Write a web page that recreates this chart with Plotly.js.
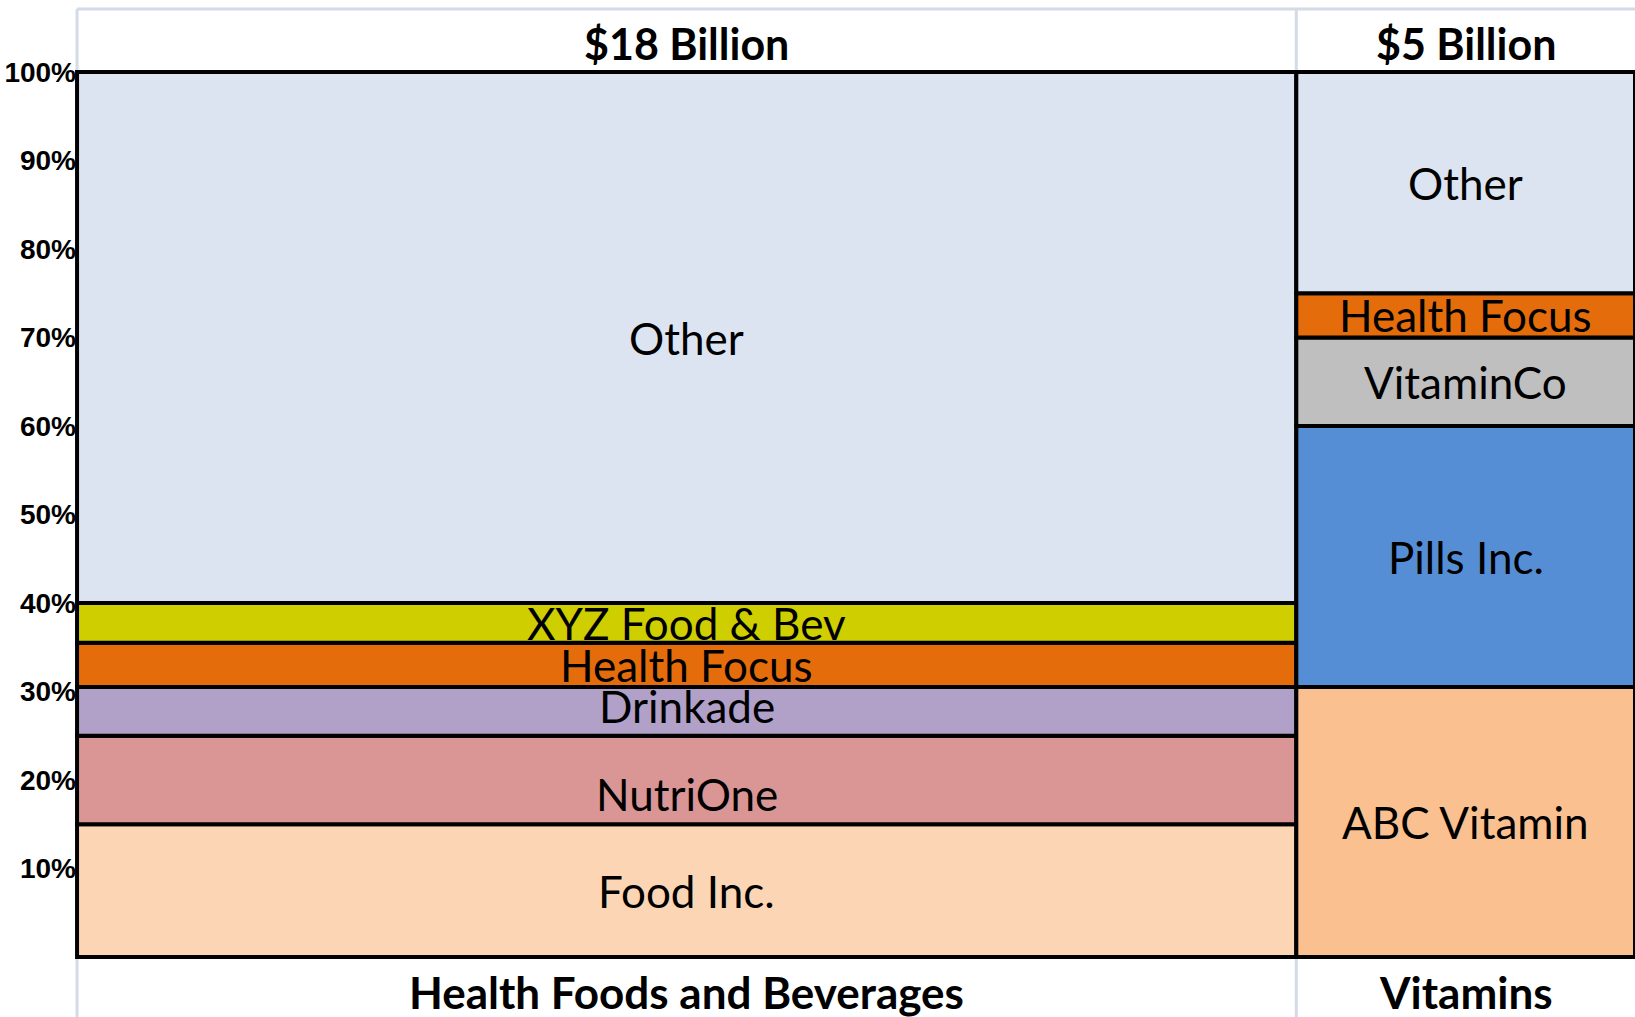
<!DOCTYPE html>
<html>
<head>
<meta charset="utf-8">
<script src="https://cdn.plot.ly/plotly-3.0.1.min.js"></script>
<style>
html,body{margin:0;padding:0;background:#fff;overflow:hidden;}
#chart{width:1635px;height:1017px;}
</style>
</head>
<body>
<div id="chart"></div>
<script>
// ---- data ----
const categories = ['Health Foods and Beverages', 'Vitamins'];
const marketSize = [18, 5]; // $ billion, column widths
const hfbCompanies = ['Food Inc.', 'NutriOne', 'Drinkade', 'Health Focus', 'XYZ Food & Bev', 'Other'];
const hfbShares = [15, 10, 5.5, 5, 4.5, 60];
const vitCompanies = ['ABC Vitamin', 'Pills Inc.', 'VitaminCo', 'Health Focus', 'Other'];
const vitShares = [30.5, 29.5, 10, 5, 25];
const yTickVals = [10, 20, 30, 40, 50, 60, 70, 80, 90, 100];
const yTickText = ['10%', '20%', '30%', '40%', '50%', '60%', '70%', '80%', '90%', '100%'];

// ---- styles ----
const companyColors = {
  'Food Inc.': '#fcd5b5',
  'NutriOne': '#d99694',
  'Drinkade': '#b1a0c7',
  'Health Focus': '#e46c0a',
  'XYZ Food & Bev': '#cfce00',
  'Other': '#dbe4f0',
  'ABC Vitamin': '#fac090',
  'Pills Inc.': '#558ed5',
  'VitaminCo': '#bfbfbf'
};
const labelShift = {'NutriOne': -14, 'Drinkade': 5};
const labelFont = 'Lato, "Open Sans", sans-serif';
const frameColor = '#d3dbe8';

const columns = [
  {companies: hfbCompanies, shares: hfbShares},
  {companies: vitCompanies, shares: vitShares}
];

const traces = [];
const annotations = [];
const shapes = [];
let xStart = 0;
const total = marketSize.reduce((a, b) => a + b, 0);

columns.forEach((col, i) => {
  const w = marketSize[i];
  const xc = xStart + w / 2;
  const bases = [];
  let acc = 0;
  col.shares.forEach(s => { bases.push(acc); acc += s; });
  traces.push({
    type: 'bar',
    x: col.companies.map(() => xc),
    y: col.shares,
    base: bases,
    width: col.companies.map(() => w),
    marker: {
      color: col.companies.map(c => companyColors[c]),
      line: {color: '#000', width: 4}
    },
    cliponaxis: false,
    hoverinfo: 'skip',
    showlegend: false
  });
  col.companies.forEach((c, k) => {
    annotations.push({
      x: xc, xref: 'x',
      y: bases[k] + col.shares[k] / 2, yref: 'y',
      text: c, showarrow: false,
      yshift: labelShift[c] || 0,
      font: {family: labelFont, size: 44, color: '#000'}
    });
  });
  annotations.push({
    x: xc, xref: 'x', y: 1.0281, yref: 'paper', yanchor: 'middle',
    text: '<b>$' + w + ' Billion</b>', showarrow: false,
    font: {family: labelFont, size: 43, color: '#000'}
  });
  annotations.push({
    x: xc, xref: 'x', y: -0.0359, yref: 'paper', yanchor: 'middle',
    text: '<b>' + categories[i] + '</b>', showarrow: false,
    font: {family: labelFont, size: 44, color: '#000'}
  });
  shapes.push({type: 'line', xref: 'x', yref: 'paper', x0: xStart, x1: xStart, y0: 0.9966, y1: 1.0673,
    line: {color: frameColor, width: 3}, layer: 'below'});
  shapes.push({type: 'line', xref: 'x', yref: 'paper', x0: xStart, x1: xStart, y0: -0.07, y1: 0.0034,
    line: {color: frameColor, width: 3}, layer: 'below'});
  xStart += w;
});
shapes.push({type: 'line', xref: 'x', yref: 'paper', x0: 0, x1: total, y0: 1.0673, y1: 1.0673,
  line: {color: frameColor, width: 3}, layer: 'below'});

const layout = {
  width: 1635, height: 1017,
  margin: {l: 74, r: 0, t: 69, b: 57, pad: 0},
  paper_bgcolor: '#fff', plot_bgcolor: '#fff',
  barmode: 'overlay',
  bargap: 0,
  xaxis: {range: [-0.045, total], showgrid: false, zeroline: false, showticklabels: false, ticks: '', showline: false, fixedrange: true},
  yaxis: {range: [-0.35, 100.35], showgrid: false, zeroline: false, showline: false, ticks: '',
    tickvals: yTickVals, ticktext: yTickText, ticklabelstandoff: -3,
    tickfont: {family: '"Liberation Sans", Arial, sans-serif', size: 28, color: '#000', weight: 'bold'},
    fixedrange: true},
  annotations: annotations,
  shapes: shapes
};

Plotly.newPlot('chart', traces, layout, {displayModeBar: false, staticPlot: true});
</script>
</body>
</html>
